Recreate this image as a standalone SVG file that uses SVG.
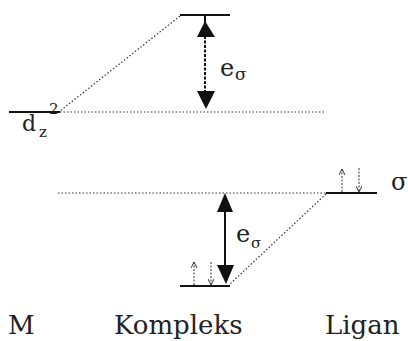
<svg xmlns="http://www.w3.org/2000/svg" width="408" height="341" viewBox="0 0 408 341">
<style>
.lvl{stroke:#111;stroke-width:2;fill:none}
.dot{stroke:#333;stroke-width:1.2;stroke-dasharray:1.5 2;fill:none}
.head{fill:#111}
.el{stroke:#333;stroke-width:1;stroke-dasharray:2 1.5;fill:none}
text{fill:#222}
</style>
<defs>
<marker id="eh" viewBox="0 0 6 6" refX="6" refY="3" markerWidth="6" markerHeight="6" orient="auto" markerUnits="userSpaceOnUse">
<path d="M0,0 L6,3 L0,6" fill="none" stroke="#333" stroke-width="1"/>
</marker>
</defs>
<rect width="408" height="341" fill="#fff"/>
<g id="connectors">
<line class="dot" x1="180" y1="16" x2="60" y2="111"/>
<line class="dot" x1="60" y1="112" x2="324" y2="112"/>
<line class="dot" x1="58" y1="193" x2="327" y2="193"/>
<line class="dot" x1="326" y1="194" x2="230" y2="284"/>
<g id="eSigmaTop">
<line x1="205" y1="36" x2="205" y2="92" stroke="#111" stroke-width="2" stroke-dasharray="3 1.5"/>
<line x1="205" y1="15" x2="205" y2="24" stroke="#111" stroke-width="2"/>
<polygon class="head" points="205,21 197,37 215,37"/>
<polygon class="head" points="197,91 215,91 206,109"/>
</g>
<g id="eSigmaBottom">
<line x1="225" y1="210" x2="225" y2="267" stroke="#111" stroke-width="2"/>
<polygon class="head" points="225,193 217,212 233,212"/>
<polygon class="head" points="217,265 234,265 226,284"/>
</g>
</g>
<g font-family="DejaVu Serif, Liberation Serif, serif">
<g id="level-top"><line class="lvl" x1="180" y1="15" x2="230" y2="15"/></g>
<g id="level-dz2">
<line class="lvl" x1="9" y1="112" x2="60" y2="112"/>
<text x="22" y="131" font-size="22">d</text>
<text x="39" y="137" font-size="15">z</text>
<text x="49" y="114" font-size="15">2</text>
</g>
<g id="label-top"><text x="220" y="76" font-size="24">e</text><text x="235" y="80" font-size="17">σ</text></g>
<g id="level-ligand">
<line class="lvl" x1="326" y1="193" x2="377" y2="193"/>
<line class="el" x1="342" y1="192" x2="342" y2="169" marker-end="url(#eh)"/>
<line class="el" x1="359" y1="168" x2="359" y2="192" marker-end="url(#eh)"/>
<text x="391" y="190" font-size="24">σ</text>
</g>
<g id="level-bottom">
<line class="lvl" x1="180" y1="286" x2="230" y2="286"/>
<line class="el" x1="194" y1="285" x2="194" y2="262" marker-end="url(#eh)"/>
<line class="el" x1="211" y1="262" x2="211" y2="285" marker-end="url(#eh)"/>
</g>
<g id="label-bottom"><text x="236" y="242" font-size="24">e</text><text x="251" y="248" font-size="15">σ</text></g>
<g id="labels">
<text x="8" y="334" font-size="26">M</text>
<text x="114" y="334" font-size="26">Kompleks</text>
<text x="325" y="334" font-size="26">Ligan</text>
</g>
</g>
</svg>
